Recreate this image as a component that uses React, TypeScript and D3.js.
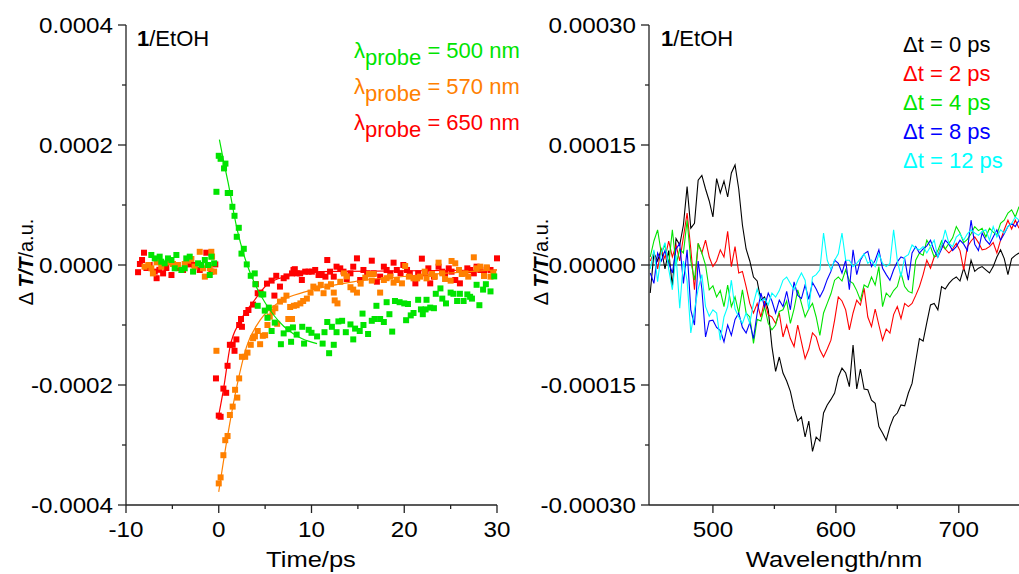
import React from 'react';
import * as d3 from 'd3';

// ΔT/T values are kept in units of 1e-5
const UNIT = 1e-5;

// kinetic traces: [delay in ps, ΔT/T]
const green500: [number, number][] = [
	[-7.27, 1.67], [-6.9, 1.1], [-6.37, 1.39], [-6.2, 0.55], [-5.83, 0.28], [-5.47, 1.1], [-5.1, 0.83],
	[-4.75, -0.55], [-4.57, 1.67], [-4.03, -0.83], [-3.67, -0.55], [-3.5, 1.1], [-3.13, 1.39], [-2.77, -1.1],
	[-2.23, 0.28], [-1.87, 0], [-1.5, 0.83], [-1.15, 0], [-0.97, -1.67], [-0.8, 1.39], [-0.5, 0.28],
	[-0.25, 12.2], [0, 18.2], [0.2, 17.7], [0.57, 16.1], [0.72, 16.9], [0.97, 12.0], [1.22, 12.0],
	[1.47, 9.7], [1.7, 8.2], [1.94, 4.7], [2.16, 6.2], [2.45, 1.9], [2.7, 2.7], [3.02, 0.1], [3.45, -1.8],
	[3.88, -1.4], [3.95, -3.2], [4.2, -6.8], [4.6, -4.9], [4.8, -4.9], [4.96, -7.6], [5.25, -8.8],
	[5.4, -7.1], [5.7, -11.0], [6.04, -9.6], [6.7, -13.2], [7.0, -11.4], [7.5, -10.7], [7.8, -12.8],
	[8.0, -10.4], [8.4, -11.6], [9.0, -10.3], [9.2, -13.1], [9.7, -10.8], [10.0, -11.3], [10.6, -11.9],
	[11.2, -13.1], [11.4, -11.2], [11.7, -9.5], [11.9, -14.7], [12.2, -10.3], [12.4, -13.3], [12.7, -11.2],
	[12.9, -9.4], [13.3, -9.3], [13.7, -11.2], [14.2, -9.9], [14.5, -12.4], [14.7, -10.6], [15.2, -11.0],
	[15.5, -8.1], [15.6, -10.0], [16.1, -11.5], [16.5, -9.3], [16.8, -9.0], [17.0, -6.8], [17.4, -9.0],
	[17.8, -9.5], [18.1, -6.2], [18.4, -8.2], [18.7, -11.1], [19.0, -6.0], [19.5, -6.2], [20.0, -6.4],
	[20.2, -9.2], [20.4, -6.5], [20.7, -8.4], [21.0, -8.0], [21.5, -5.8], [21.8, -7.4], [22.0, -8.2],
	[22.3, -7.4], [22.4, -5.8], [22.8, -7.1], [23.2, -7.2], [23.4, -4.8], [23.9, -3.9], [24.1, -5.6],
	[24.5, -6.4], [25.0, -4.6], [25.3, -4.8], [25.7, -6.0], [26.0, -4.8], [26.4, -6.0], [26.8, -4.9],
	[27.1, -5.3], [27.3, -5.6], [27.8, -3.3], [28.1, -6.7], [28.5, -4.1], [28.8, -3.2], [29.3, -4.4],
	[29.7, -1.9],
];

const orange570: [number, number][] = [
	[-8.0, -0.28], [-7.6, 0], [-7.27, -0.55], [-7.1, -1.4], [-6.7, 0.44], [-6.2, -0.28], [-5.47, 0.44],
	[-4.93, 0.17], [-4.4, 0], [-3.67, 0.17], [-3.3, 0.72], [-2.95, 1.0], [-2.6, -0.28], [-2.05, 2.2],
	[-1.7, -0.55], [-1.5, -1.94], [-0.97, -0.55], [-0.8, 2.2], [-0.5, -1.1], [-0.72, 1.4],
	[-0.25, -14.3], [0, -36.4], [0.2, -35.4], [0.5, -31.7], [0.7, -29.2], [0.95, -28.5], [1.2, -25.0],
	[1.5, -23.6], [1.76, -20.8], [2.0, -22.1], [2.2, -18.9], [2.5, -15.3], [2.85, -15.3], [3.1, -14.6],
	[3.45, -13.3], [3.7, -12.2], [3.9, -11.9], [4.2, -11.0], [4.46, -13.2], [4.75, -11.8], [5.0, -11.7],
	[5.25, -10.0], [5.5, -8.6], [5.8, -7.8], [6.1, -7.2], [6.3, -9.8], [6.6, -6.1], [7.0, -5.8],
	[7.3, -5.1], [7.5, -9.0], [7.9, -9.0], [7.7, -7.0], [8.1, -6.8], [8.4, -6.7], [8.8, -6.4],
	[9.1, -6.0], [9.5, -5.6], [9.9, -4.6], [10.2, -3.6], [10.6, -3.9], [11.0, -3.3], [11.3, -4.7],
	[11.7, -3.6], [12.1, -3.2], [12.4, -4.6], [12.5, -5.9], [12.8, -6.4], [13.1, -2.8], [13.5, -1.4],
	[13.8, -1.9], [14.2, -3.7], [14.5, -4.1], [14.9, -4.6], [15.3, -3.1], [15.8, -2.1], [16.2, -1.5],
	[16.5, -2.6], [16.7, -1.5], [17.4, -4.6], [17.8, -2.5], [18.1, -2.2], [18.5, -1.94], [18.85, -2.94],
	[19.2, -2.5], [19.75, -3.06], [20.1, -0.17], [20.5, -1.94], [21.0, -2.22], [21.4, -2.22], [21.7, -1.94],
	[22.2, -1.11], [22.4, -2.22], [23.0, -1.5], [23.3, -1.94], [23.7, 0.39], [24.1, -1.39], [24.4, -2.33],
	[25.0, -2.61], [25.1, 0.67], [25.5, 0.28], [25.9, -0.83], [26.2, -1.5], [26.6, -1.39], [26.9, -1.94],
	[27.5, 1.28], [27.8, -0.56], [28.2, -0.28], [28.6, -1.83], [28.9, -0.39], [29.3, -1.94], [29.6, -1.39],
];

const red650: [number, number][] = [
	[-8.06, 2.05], [-8.27, 0.83], [-8.5, 0.17], [-8.7, -1.2], [-7.8, -0.5], [-7.45, 0], [-6.9, -1.1],
	[-6.7, -2.2], [-6.4, -0.8], [-6.0, -1.4], [-5.65, -0.5], [-5.1, -1.67], [-4.57, -0.5], [-3.85, -0.83],
	[-3.13, 0.1], [-2.6, 0], [-2.05, -0.83], [-1.34, 2.05], [-1.15, 0], [-0.8, -1.1], [-0.37, 0.1],
	[-0.3, -18.9], [0, -25.1], [0.2, -25.3], [0.5, -20.6], [0.8, -21.3], [0.95, -16.8], [1.2, -13.3],
	[1.5, -13.3], [1.7, -14.3], [1.9, -12.4], [2.2, -10.0], [2.4, -9.0], [2.5, -10.3], [2.95, -8.0],
	[3.2, -7.5], [3.7, -6.6], [4.0, -3.2], [4.2, -4.7], [4.5, -4.6], [5.2, -3.1], [5.7, -2.6], [6.0, -5.1],
	[6.2, -1.8], [6.6, -3.6], [7.0, -2.2], [7.3, -1.9], [7.9, -1.4], [8.2, -0.7], [8.06, -0.83],
	[8.42, -1.39], [8.78, -1.39], [8.96, -2.5], [9.32, -1.11], [9.68, -1.11], [10.04, -1.11], [10.4, -0.83],
	[10.76, -1.67], [11.1, -1.67], [11.5, -1.94], [11.7, 0.83], [12.0, -1.11], [12.4, -1.94], [12.7, -0.28],
	[13.1, -0.56], [13.45, -1.11], [13.8, -2.33], [14.2, -1.39], [14.5, -0.28], [14.9, 1.11], [15.25, -2.5],
	[15.6, -0.83], [16.0, -1.39], [16.5, 0.72], [16.7, -1.39], [17.05, -2.78], [17.4, -1.94], [17.8, -0.28],
	[18.1, -0.83], [18.5, -1.39], [18.85, 0.39], [19.2, -0.83], [19.6, -1.39], [19.9, 0], [20.3, -0.83],
	[20.6, -1.39], [21.2, -3.06], [21.5, -1.39], [21.9, 1.06], [22.3, -1.39], [22.6, -0.56], [22.8, -3.06],
	[23.2, -1.94], [23.7, -0.28], [24.1, -1.11], [24.4, -1.39], [24.8, -0.56], [25.1, -1.11], [25.5, -2.5],
	[26.0, -3.06], [26.4, -1.39], [26.8, -0.56], [27.1, -0.83], [27.5, -1.39], [27.8, -0.28], [28.2, -0.83],
	[28.6, -1.39], [28.9, -0.56], [29.3, -0.83], [30.0, 1.11],
];

// fitted curves
const green500Fit: [number, number][] = [
	[0.07, 20.9], [0.5, 17.5], [1.0, 13.8], [2.0, 5.8], [3.0, 0.3], [4.0, -3.5], [5.0, -6.3],
	[6.0, -8.5], [7.0, -10.2], [8.0, -11.4], [9.0, -12.3], [10.6, -13.1],
];
const orange570Fit: [number, number][] = [
	[0, -37.8], [0.94, -28.6], [1.94, -20.3], [3.0, -13.6], [4.46, -9.2], [6.6, -6.1], [9.5, -4.4],
	[14.5, -2.8], [21.7, -1.7], [30, -0.8],
];
const red650Fit: [number, number][] = [
	[0, -25.0], [0.5, -20.8], [1.22, -13.6], [2.3, -9.4], [3.74, -6.1], [5.2, -3.3], [7.3, -1.9],
	[10.9, -1.1], [30, -0.83],
];

// transient spectra, 3 nm grid
const wavelengths = d3.range(449, 750, 3);
const spec0ps = [
	-3.5, 1.5, 0.5, 2.0, -0.5, 1.8, -2.7, 3.3, 2.5, 5.0,
	9.8, 4.6, 5.2, 10.6, 11.2, 9.5, 8.0, 6.0, 10.8, 9.0,
	10.5, 8.5, 11.5, 12.5, 9.5, 5.0, 2.0, 0.5, -1.5, -2.0,
	-4.4, -4.0, -5.6, -10.2, -13.3, -11.5, -13.5, -14.5, -15.8, -17.9,
	-19.5, -19.0, -21.5, -19.5, -23.3, -21.5, -22.0, -18.5, -17.5, -16.8,
	-16.0, -14.0, -12.9, -13.5, -15.2, -10.0, -15.5, -13.0, -15.5, -15.6,
	-16.9, -17.3, -20.2, -21.0, -21.9, -20.2, -19.0, -18.5, -17.5, -17.6,
	-16.0, -14.8, -12.0, -9.2, -9.5, -7.2, -5.0, -4.8, -5.6, -2.7,
	-3.0, -2.3, -1.8, -1.5, -2.0, -0.4, -1.8, 0.6, -0.8, -0.4,
	-0.2, -0.6, -1.0, -0.2, 1.0, 1.9, 0.8, -1.2, 0.8, 1.2,
	1.5,
];
const spec2ps = [
	0.5, 1.5, -0.5, 2.0, 0.8, 3.0, 1.0, 2.5, 0.5, 3.5,
	6.5, 2.0, -3.1, 2.7, 1.5, 3.1, 1.0, -0.2, 0.5, 1.9,
	1.0, 4.2, -0.2, 2.3, -1.0, -0.8, -2.7, -4.8, -6.0, -4.8,
	-6.5, -4.5, -6.2, -6.5, -7.3, -6.0, -9.0, -7.5, -9.2, -10.2,
	-7.5, -9.6, -11.7, -10.5, -8.5, -9.0, -10.6, -11.5, -10.5, -9.4,
	-6.9, -4.0, -4.5, -5.6, -8.1, -6.0, -4.4, -5.0, -2.9, -6.5,
	-7.7, -5.5, -7.5, -9.4, -8.0, -8.5, -6.2, -5.2, -6.7, -4.8,
	-5.2, -4.8, -3.8, -2.7, -1.2, 0.6, -0.4, 1.0, 1.2, 2.5,
	2.0, 1.5, 2.0, 2.7, 1.8, -0.6, 2.3, 3.0, 3.5, 2.8,
	1.9, 2.0, 2.3, 2.8, 1.5, 3.1, 4.4, 5.6, 4.5, 5.6,
	4.6,
];
const spec4ps = [
	1.0, 3.0, 4.4, 1.5, 2.5, 0.0, 4.4, 0.0, 2.0, 1.5,
	5.6, 0.5, -1.9, 2.7, 1.5, 0.0, -3.1, -2.6, -4.0, -3.2,
	-5.2, -2.5, -5.2, -4.0, -6.0, -3.1, -6.0, -6.5, -9.8, -6.8,
	-7.0, -5.2, -7.3, -8.1, -7.5, -5.8, -5.6, -4.5, -7.3, -5.5,
	-3.1, -4.8, -6.5, -5.5, -4.8, -6.5, -8.8, -6.0, -4.8, -3.6,
	-1.9, -1.5, -2.0, -0.6, -2.0, -2.3, -3.2, -4.4, -2.5, -2.8,
	-1.5, -2.5, -0.2, -5.2, -3.5, -4.0, -3.2, -2.7, -1.0, -2.7,
	-3.3, -3.5, 0.6, 1.5, 1.2, 3.1, 2.3, 1.0, 1.8, 3.0,
	2.0, 2.7, 3.4, 4.8, 4.0, 2.8, 3.2, 3.9, 4.8, 4.3,
	4.6, 3.5, 4.6, 4.1, 3.8, 5.2, 5.6, 6.5, 6.9, 6.0,
	7.3,
];
const spec8ps = [
	-1.0, -2.3, 1.5, 0.5, 1.8, 0.3, -1.0, 2.0, 2.7, -2.3,
	1.9, -5.6, -7.5, 0.5, -3.0, -9.0, -7.0, -6.9, -7.8, -8.2,
	-9.6, -7.5, -8.8, -6.8, -6.0, -7.8, -8.5, -7.2, -9.2, -6.0,
	-3.5, -5.2, -3.5, -4.5, -6.0, -4.4, -5.2, -3.3, -5.6, -2.1,
	-3.8, -4.2, -2.5, -4.3, -2.2, -3.0, -4.0, -3.1, -1.8, -0.8,
	0.6, 0.2, -1.0, 0.6, -3.1, 1.9, -1.2, 0.6, 1.4, 1.7,
	-0.2, 0.6, 1.9, -0.4, -1.2, -1.9, -0.6, 0.4, 1.0, 0.8,
	-1.9, 1.5, 2.3, 1.5, 2.0, 2.4, 3.1, 1.8, 1.0, 2.0,
	3.1, 2.6, 1.8, 2.3, 3.1, 2.6, 1.8, 5.6, 2.6, 1.8,
	4.0, 3.1, 2.6, 3.5, 4.4, 3.1, 3.9, 4.8, 5.2, 4.8,
	5.6,
];
const spec12ps = [
	-0.5, 1.9, -2.1, 1.5, 2.8, -0.5, -3.1, 1.2, -5.4, 0.5,
	-2.0, -8.5, -5.6, -3.0, -1.2, -5.2, -6.4, -5.6, -6.0, -9.4,
	-6.5, -5.2, -1.9, -5.5, -6.5, -7.3, -6.0, -7.3, -4.8, -3.0,
	-4.5, -4.2, -5.0, -3.5, -4.0, -3.2, -1.9, -1.5, -2.3, -3.1,
	-1.9, -1.0, -1.9, -5.6, -1.5, -1.2, -0.6, 4.0, 0.6, -0.6,
	0.6, 1.4, 4.0, 0.6, 0.6, -0.2, 0.2, 0.8, 1.4, 0.2,
	0.6, -0.2, 1.4, 0.2, -0.2, 0.2, 4.4, 0.6, -1.5, 1.0,
	1.3, 2.5, 2.1, 1.9, 2.3, 1.5, 2.3, 3.1, 1.0, 2.5,
	4.4, 2.7, 2.3, 3.5, 3.9, 3.1, 3.9, 4.4, 4.0, 3.7,
	4.2, 4.4, 3.1, 4.8, 3.5, 4.4, 4.0, 4.8, 5.2, 6.0,
	5.6,
];

const kinLegend = ['500', '570', '650'];
const specLegend = ['0', '2', '4', '8', '12'];

const leftYTicks = [-40, -20, 0, 20, 40];
const leftYMinor = [-30, -10, 10, 30];
const leftXTicks = [-10, 0, 10, 20, 30];
const leftXMinor = [-5, 5, 15, 25];
const rightYTicks = [-30, -15, 0, 15, 30];
const rightYMinor = [-22.5, -7.5, 7.5, 22.5];
const rightXTicks = [500, 600, 700];
const rightXMinor = [550, 650];

const GREEN = '#00e400';
const ORANGE = '#ff8000';
const RED = '#ff0000';
const BLUE = '#0000ff';
const CYAN = '#00ffff';
const FONT = '"Liberation Sans", Arial, sans-serif';

// text stretched horizontally (the original axis fonts are a bit wide)
const Wide = ({ x, y, sx, anchor, size, children }: any) => (
	<g transform={`translate(${x},${y}) scale(${sx},1)`}>
		<text x={0} y={0} fontSize={size} textAnchor={anchor}>
			{children}
		</text>
	</g>
);

const App = () => {
	const top = 25, bottom = 505;
	const xL = d3.scaleLinear().domain([-10, 30]).range([126, 497]);
	const yL = d3.scaleLinear().domain([-40, 40]).range([bottom, top]);
	const xR = d3.scaleLinear().domain([448, 749]).range([649, 1019]);
	const yR = d3.scaleLinear().domain([-30, 30]).range([bottom, top]);

	const kinLine = d3
		.line<[number, number]>()
		.x((d) => xL(d[0]))
		.y((d) => yL(d[1]))
		.curve(d3.curveMonotoneX);
	const specLine = (vals: number[]) =>
		d3
			.line<number>()
			.x((_, i) => xR(wavelengths[i]))
			.y((d) => yR(d))(vals) || '';

	const kinSeries = [
		{ pts: red650, fit: red650Fit, color: RED },
		{ pts: orange570, fit: orange570Fit, color: ORANGE },
		{ pts: green500, fit: green500Fit, color: GREEN },
	];
	const specSeries = [
		{ vals: spec0ps, color: '#000' },
		{ vals: spec2ps, color: RED },
		{ vals: spec4ps, color: GREEN },
		{ vals: spec8ps, color: BLUE },
		{ vals: spec12ps, color: CYAN },
	];
	const kinColors = [GREEN, ORANGE, RED];
	const specColors = ['#000', RED, GREEN, BLUE, CYAN];

	const fs = 22;
	const tickSx = 1.1;
	const titleSx = 1.16;
	const sq = 6;

	return (
		<svg
			width={1019}
			height={574}
			style={{ position: 'absolute', left: 0, top: 0, background: '#fff' }}
			fontFamily={FONT}
		>
			{/* left panel */}
			<g>
				{kinSeries.map((s, k) => (
					<g key={k}>
						<path d={kinLine(s.fit) || ''} fill='none' stroke={s.color} strokeWidth={1.2} />
						{s.pts.map((d, i) => (
							<rect
								key={i}
								x={xL(d[0]) - sq / 2}
								y={yL(d[1]) - sq / 2}
								width={sq}
								height={sq}
								fill={s.color}
							/>
						))}
					</g>
				))}
				<line x1={xL(-10)} x2={xL(-10)} y1={top} y2={bottom} stroke='#222' strokeWidth={1.3} />
				<line x1={xL(-10)} x2={xL(30)} y1={bottom} y2={bottom} stroke='#222' strokeWidth={1.3} />
				{leftYTicks.map((t) => (
					<g key={t}>
						<line x1={xL(-10) - 8} x2={xL(-10)} y1={yL(t)} y2={yL(t)} stroke='#222' strokeWidth={1.3} />
						<Wide x={xL(-10) - 13} y={yL(t) + 8} sx={tickSx} anchor='end' size={fs}>
							{(t * UNIT).toFixed(4)}
						</Wide>
					</g>
				))}
				{leftYMinor.map((t) => (
					<line key={t} x1={xL(-10) - 4} x2={xL(-10)} y1={yL(t)} y2={yL(t)} stroke='#222' strokeWidth={1.3} />
				))}
				{leftXTicks.map((t) => (
					<g key={t}>
						<line x1={xL(t)} x2={xL(t)} y1={bottom} y2={bottom + 8} stroke='#222' strokeWidth={1.3} />
						<Wide x={xL(t)} y={537} sx={tickSx} anchor='middle' size={fs}>
							{t}
						</Wide>
					</g>
				))}
				{leftXMinor.map((t) => (
					<line key={t} x1={xL(t)} x2={xL(t)} y1={bottom} y2={bottom + 4} stroke='#222' strokeWidth={1.3} />
				))}
				<Wide x={311} y={567} sx={titleSx} anchor='middle' size={fs}>
					Time/ps
				</Wide>
				<text transform={`translate(33, 262) rotate(-90)`} fontSize={20} textAnchor='middle'>
					<tspan>Δ </tspan>
					<tspan fontWeight='bold' fontStyle='italic'>T/T</tspan>
					<tspan>/a.u.</tspan>
				</text>
				<text x={137} y={46} fontSize={fs}>
					<tspan fontWeight='bold'>1</tspan>/EtOH
				</text>
				{kinLegend.map((l, i) => (
					<text key={l} x={354} y={58 + i * 36} fontSize={fs} fill={kinColors[i]}>
						<tspan>λ</tspan>
						<tspan dy={7}>probe</tspan>
						<tspan dy={-7}> = {l} nm</tspan>
					</text>
				))}
			</g>

			{/* right panel */}
			<g>
				<line x1={xR(448)} x2={1019} y1={yR(0)} y2={yR(0)} stroke='#555' strokeWidth={1.5} />
				{specSeries.map((s, k) => (
					<path key={k} d={specLine(s.vals)} fill='none' stroke={s.color} strokeWidth={1.1} />
				))}
				<line x1={xR(448)} x2={xR(448)} y1={top} y2={bottom} stroke='#222' strokeWidth={1.3} />
				<line x1={xR(448)} x2={1019} y1={bottom} y2={bottom} stroke='#222' strokeWidth={1.3} />
				{rightYTicks.map((t) => (
					<g key={t}>
						<line x1={xR(448) - 8} x2={xR(448)} y1={yR(t)} y2={yR(t)} stroke='#222' strokeWidth={1.3} />
						<Wide x={xR(448) - 13} y={yR(t) + 8} sx={tickSx} anchor='end' size={fs}>
							{(t * UNIT).toFixed(5)}
						</Wide>
					</g>
				))}
				{rightYMinor.map((t) => (
					<line key={t} x1={xR(448) - 4} x2={xR(448)} y1={yR(t)} y2={yR(t)} stroke='#222' strokeWidth={1.3} />
				))}
				{rightXTicks.map((t) => (
					<g key={t}>
						<line x1={xR(t)} x2={xR(t)} y1={bottom} y2={bottom + 8} stroke='#222' strokeWidth={1.3} />
						<Wide x={xR(t)} y={537} sx={tickSx} anchor='middle' size={fs}>
							{t}
						</Wide>
					</g>
				))}
				{rightXMinor.map((t) => (
					<line key={t} x1={xR(t)} x2={xR(t)} y1={bottom} y2={bottom + 4} stroke='#222' strokeWidth={1.3} />
				))}
				<Wide x={834} y={567} sx={titleSx} anchor='middle' size={fs}>
					Wavelength/nm
				</Wide>
				<text transform={`translate(548, 262) rotate(-90)`} fontSize={20} textAnchor='middle'>
					<tspan>Δ </tspan>
					<tspan fontWeight='bold' fontStyle='italic'>T/T</tspan>
					<tspan>/a.u.</tspan>
				</text>
				<text x={661} y={46} fontSize={fs}>
					<tspan fontWeight='bold'>1</tspan>/EtOH
				</text>
				{specLegend.map((l, i) => (
					<text key={l} x={903} y={52 + i * 29} fontSize={fs} fill={specColors[i]}>
						Δt = {l} ps
					</text>
				))}
			</g>
		</svg>
	);
};

export default App;
